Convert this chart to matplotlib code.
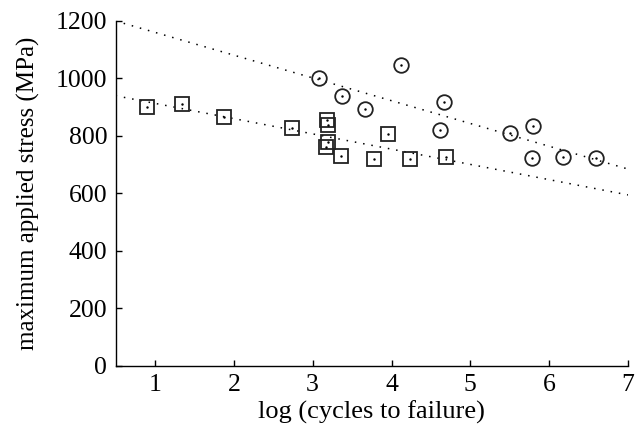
'''
fatigue data: maximum applied stress against log cycles to failure
'''

import matplotlib
matplotlib.use('Agg')
import matplotlib.pyplot as plt

# circles (upper data set)
CIRC_X = [3.08, 4.12, 3.37, 3.66, 4.66, 4.62, 5.50, 5.80, 5.78, 6.17, 6.60]
CIRC_Y = [1003, 1047, 939, 895, 918, 820, 810, 835, 723, 728, 722]

# squares (lower data set)
SQ_X = [0.90, 1.34, 1.88, 2.74, 3.18, 3.19, 3.19, 3.17, 3.36, 3.96, 3.78, 4.23, 4.69]
SQ_Y = [900, 911, 867, 828, 856, 839, 780, 761, 732, 807, 720, 720, 727]

# dotted trend lines, end points
UP_X = [0.5, 7.0]
UP_Y = [1200, 685]
LOW_X = [0.5, 7.0]
LOW_Y = [940, 595]

X_TICKS = [1, 2, 3, 4, 5, 6, 7]
Y_TICKS = [0, 200, 400, 600, 800, 1000, 1200]

plt.rcParams['font.family'] = ['Liberation Serif', 'DejaVu Serif']

fig = plt.figure(figsize=(6.35, 4.37), dpi=100)
ax = fig.add_axes([0.182, 0.1625, 0.807, 0.7895])

ax.plot(UP_X, UP_Y, color='black', lw=1.1, linestyle=(0, (1, 4.5)))
ax.plot(LOW_X, LOW_Y, color='black', lw=1.1, linestyle=(0, (1, 4.5)))

ax.plot(CIRC_X, CIRC_Y, 'o', ms=10.5, mfc='none', mec='#222222', mew=1.3)
ax.plot(CIRC_X, CIRC_Y, '.', ms=1.5, color='black')
ax.plot(SQ_X, SQ_Y, 's', ms=10.5, mfc='none', mec='#222222', mew=1.3)
ax.plot(SQ_X, SQ_Y, '.', ms=1.5, color='black')

ax.set_xlim(0.5, 7)
ax.set_ylim(0, 1200)
ax.set_xticks(X_TICKS)
ax.set_yticks(Y_TICKS)

for side in ['top', 'right']:
    ax.spines[side].set_visible(False)
for side in ['left', 'bottom']:
    ax.spines[side].set_linewidth(1.0)

ax.tick_params(direction='in', length=4, width=1, labelsize=18.5, pad=6)

ax.set_xlabel('log (cycles to failure)', fontsize=19, labelpad=3)
ax.set_ylabel('maximum applied stress (MPa)', fontsize=18, labelpad=11)

fig.savefig('out.png', dpi=100)
